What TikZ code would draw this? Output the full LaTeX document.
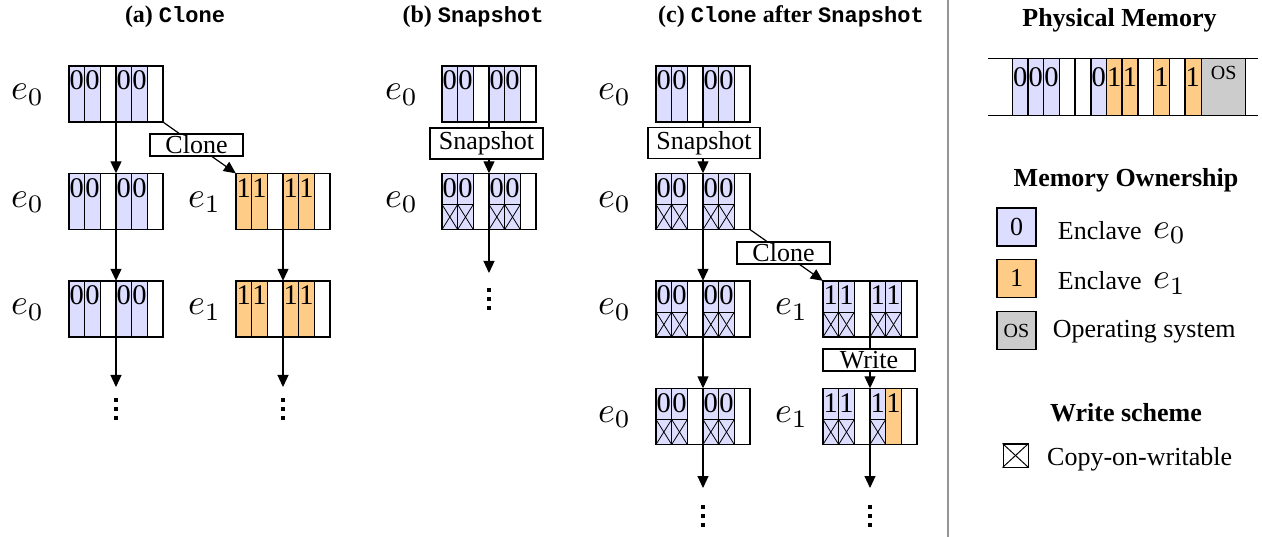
\documentclass[tikz,border=0pt]{standalone}
\usepackage{fontspec}
\setmainfont{Liberation Serif}
\setmonofont{Liberation Mono}
\usepackage{graphicx}
\usetikzlibrary{arrows.meta}

\definecolor{ownzero}{RGB}{221,221,255}
\definecolor{ownone}{RGB}{255,204,136}
\definecolor{osgray}{RGB}{204,204,204}
\definecolor{rulegray}{RGB}{150,150,150}

\newcommand\txtfont{\fontsize{26}{30}\selectfont}
\newcommand\digfont{\fontsize{28.5}{32}\selectfont}
\newcommand\osfont{\fontsize{20}{24}\selectfont}
% enclave symbol, math italic scaled up
\newcommand\encl[1]{\scalebox{3.6}{$e_{#1}$}}

\tikzset{
  blockarea/.style={rectangle, inner sep=0pt, minimum width=94pt, minimum height=56pt},
  cellrule/.style={draw=black, line width=1.5pt},
  cowline/.style={draw=black, line width=0.8pt},
  digit/.style={anchor=north, inner sep=0pt, font=\digfont},
  flow/.style={draw=black, line width=1.2pt, -{Triangle[length=12pt,width=11pt]}},
  opbox/.style={draw=black, line width=1.5pt, fill=white, inner sep=0pt, font=\txtfont},
  enclabel/.style={anchor=base west, inner sep=0pt},
  paneltitle/.style={anchor=base, inner sep=0pt, font=\fontsize{24}{28}\selectfont\bfseries},
  headtitle/.style={anchor=base, inner sep=0pt, font=\fontsize{26}{30}\selectfont\bfseries},
  legbox/.style={draw=black, line width=1.5pt, inner sep=0pt, minimum width=39pt, minimum height=38pt, font=\txtfont},
  legtext/.style={anchor=base west, inner sep=0pt, font=\txtfont},
}

% memory block: name, left x, top y, list of cells fill/digit/copy-on-write
\newcommand\memblock[4]{%
  \node[blockarea] (#1) at ({#2+47},{#3+28}) {};
  \foreach \f/\d/\x [count=\i from 0] in {#4}{%
    \pgfmathsetmacro\cx{#2+\i*15.667}
    \fill[\f] (\cx,#3) rectangle ++(15.667,56);
    \ifnum\x=1
      \draw[cowline] (\cx,{#3+31}) rectangle ++(15.667,25);
      \draw[cowline] (\cx,{#3+31}) -- ++(15.667,25);
      \draw[cowline] (\cx,{#3+56}) -- ++(15.667,-25);
    \fi
    \node[digit] at ({\cx+7.833},{#3+4.5}) {\d};
    \draw[cellrule] (\cx,#3) -- ++(0,56);
  }
  \draw[cellrule] (#2,#3) rectangle ++(94,56);
}

% three stacked dots below an arrow
\newcommand\dotsbelow[2]{%
  \foreach \k in {0,1,2}{\fill ({#1-1.6},{#2+\k*9-1.6}) rectangle ++(3.2,3.2);}
}

\begin{document}
\begin{tikzpicture}[x=1pt,y=-1pt]
\useasboundingbox (0,0) rectangle (1262,537);

% ---------- panel titles ----------
\node[paneltitle] at (175,23) {(a) \texttt{\fontsize{22}{26}\selectfont Clone}};
\node[paneltitle] at (473,23) {(b) \texttt{\fontsize{22}{26}\selectfont Snapshot}};
\node[paneltitle] at (791,23) {(c) \texttt{\fontsize{22}{26}\selectfont Clone} after \texttt{\fontsize{22}{26}\selectfont Snapshot}};

% ---------- (a) Clone ----------
\memblock{a1}{69}{66}{ownzero/0/0, ownzero/0/0, white/{}/0, ownzero/0/0, ownzero/0/0, white/{}/0}
\memblock{a2}{69}{173.5}{ownzero/0/0, ownzero/0/0, white/{}/0, ownzero/0/0, ownzero/0/0, white/{}/0}
\memblock{a3}{69}{281}{ownzero/0/0, ownzero/0/0, white/{}/0, ownzero/0/0, ownzero/0/0, white/{}/0}
\memblock{b2}{236}{173.5}{ownone/1/0, ownone/1/0, white/{}/0, ownone/1/0, ownone/1/0, white/{}/0}
\memblock{b3}{236}{281}{ownone/1/0, ownone/1/0, white/{}/0, ownone/1/0, ownone/1/0, white/{}/0}

\node[enclabel] at (11,100) {\encl0};
\node[enclabel] at (11,207.5) {\encl0};
\node[enclabel] at (11,315) {\encl0};
\node[enclabel] at (188,207.5) {\encl1};
\node[enclabel] at (188,315) {\encl1};

\coordinate (aend) at (116,387);
\coordinate (bend) at (283,387);
\draw[flow] (a1.south) -- (a2.north);
\draw[flow] (a2.south) -- (a3.north);
\draw[flow] (a3.south) -- (aend);
\draw[flow] (b2.south) -- (b3.north);
\draw[flow] (b3.south) -- (bend);
\draw[flow] (a1.south east) -- (b2.north west);
\node[opbox, minimum width=93pt, minimum height=22pt] (aclone) at (196.5,145) {Clone};
\dotsbelow{116}{400}
\dotsbelow{283}{400}

% ---------- (b) Snapshot ----------
\memblock{c1}{442}{66}{ownzero/0/0, ownzero/0/0, white/{}/0, ownzero/0/0, ownzero/0/0, white/{}/0}
\memblock{c2}{442}{173.5}{ownzero/0/1, ownzero/0/1, white/{}/0, ownzero/0/1, ownzero/0/1, white/{}/0}
\node[enclabel] at (385,100) {\encl0};
\node[enclabel] at (385,207.5) {\encl0};
\coordinate (cend) at (489,273);
\draw[flow] (c1.south) -- (c2.north);
\draw[flow] (c2.south) -- (cend);
\node[opbox, minimum width=113pt, minimum height=31pt] (bsnap) at (486.5,143.7) {Snapshot};
\dotsbelow{489}{290}

% ---------- (c) Clone after Snapshot ----------
\memblock{d1}{656}{66}{ownzero/0/0, ownzero/0/0, white/{}/0, ownzero/0/0, ownzero/0/0, white/{}/0}
\memblock{d2}{656}{173.5}{ownzero/0/1, ownzero/0/1, white/{}/0, ownzero/0/1, ownzero/0/1, white/{}/0}
\memblock{d3}{656}{281}{ownzero/0/1, ownzero/0/1, white/{}/0, ownzero/0/1, ownzero/0/1, white/{}/0}
\memblock{d4}{656}{388.5}{ownzero/0/1, ownzero/0/1, white/{}/0, ownzero/0/1, ownzero/0/1, white/{}/0}
\memblock{f3}{823}{281}{ownzero/1/1, ownzero/1/1, white/{}/0, ownzero/1/1, ownzero/1/1, white/{}/0}
\memblock{f4}{823}{388.5}{ownzero/1/1, ownzero/1/1, white/{}/0, ownzero/1/1, ownone/1/0, white/{}/0}

\node[enclabel] at (598,100) {\encl0};
\node[enclabel] at (598,207.5) {\encl0};
\node[enclabel] at (598,315) {\encl0};
\node[enclabel] at (598,422.5) {\encl0};
\node[enclabel] at (775,315) {\encl1};
\node[enclabel] at (775,422.5) {\encl1};

\coordinate (dend) at (703,488);
\coordinate (fend) at (870,488);
\draw[flow] (d1.south) -- (d2.north);
\draw[flow] (d2.south) -- (d3.north);
\draw[flow] (d3.south) -- (d4.north);
\draw[flow] (d4.south) -- (dend);
\draw[flow] (f3.south) -- (f4.north);
\draw[flow] (f4.south) -- (fend);
\draw[flow] (d2.south east) -- (f3.north west);
\node[opbox, minimum width=112pt, minimum height=31pt] (csnap) at (704,142.8) {Snapshot};
\node[opbox, minimum width=93pt, minimum height=22pt] (cclone) at (783.5,253) {Clone};
\node[opbox, minimum width=92pt, minimum height=22pt] (cwrite) at (869,360) {Write};
\dotsbelow{703}{507}
\dotsbelow{870}{507}

% ---------- separator ----------
\draw[rulegray, line width=1.2pt] (948,0) -- (948,537);

% ---------- physical memory ----------
\node[headtitle] at (1119.5,26.7) {Physical Memory};
\foreach \f/\d [count=\i from 0] in {ownzero/0, ownzero/0, ownzero/0, white/{}, white/{}, ownzero/0, ownone/1, ownone/1, white/{}, ownone/1, white/{}, ownone/1}{%
  \pgfmathsetmacro\cx{1012.3+\i*15.7}
  \fill[\f] (\cx,58.3) rectangle ++(15.7,57.4);
  \node[digit] at ({\cx+7.85},67) {\d};
  \draw[cellrule] (\cx,58.3) -- ++(0,57.4);
}
\fill[osgray] (1201.7,58.3) rectangle (1245.7,115.7);
\node[anchor=north, inner sep=0pt, font=\osfont] at (1223.7,66) {OS};
\draw[cellrule] (1201.7,58.3) -- (1201.7,115.7);
\draw[cellrule] (1245.7,58.3) -- (1245.7,115.7);
\draw[cellrule] (988,58.3) -- (1258,58.3);
\draw[cellrule] (988,115.7) -- (1258,115.7);

% ---------- memory ownership legend ----------
\node[headtitle] at (1126,187) {Memory Ownership};
\node[legbox, fill=ownzero] (lgzero) at (1016.5,227) {0};
\node[legbox, fill=ownone] (lgone) at (1016.5,278.3) {1};
\node[legbox, fill=osgray, font=\osfont] (lgos) at (1016.5,330.5) {OS};
\node[legtext] at (1057.7,240) {Enclave};
\node[enclabel] at (1153,238.5) {\encl0};
\node[legtext] at (1057.7,290) {Enclave};
\node[enclabel] at (1153,289) {\encl1};
\node[legtext] at (1052.7,338) {Operating system};

% ---------- write scheme legend ----------
\node[headtitle] at (1126,421.7) {Write scheme};
\node[draw=black, line width=1pt, inner sep=0pt, minimum width=25pt, minimum height=23pt] (lgcow) at (1015.5,455.5) {};
\draw[cowline, line width=1pt] (lgcow.north west) -- (lgcow.south east);
\draw[cowline, line width=1pt] (lgcow.south west) -- (lgcow.north east);
\node[legtext] at (1047,465) {Copy-on-writable};

\end{tikzpicture}
\end{document}
